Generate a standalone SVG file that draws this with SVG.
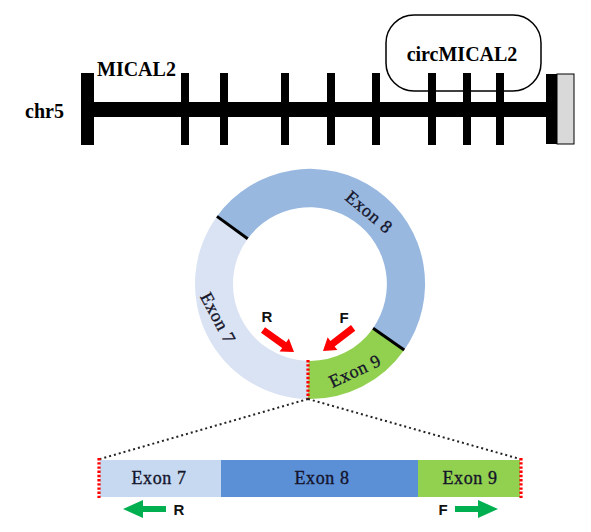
<svg xmlns="http://www.w3.org/2000/svg" xmlns:xlink="http://www.w3.org/1999/xlink" width="591" height="532" viewBox="0 0 591 532">
<style>
.lbl{font-family:"Liberation Serif","Times New Roman",serif;font-weight:bold;font-size:20px;fill:#000}
.ex{font-family:"Liberation Serif","Times New Roman",serif;font-size:18px;letter-spacing:0.6px;fill:#14142a;stroke:#14142a;stroke-width:0.35;text-anchor:middle}
.pr{font-family:"Liberation Sans",Arial,sans-serif;font-weight:bold;font-size:15px;fill:#111;text-anchor:middle}
.tick{fill:#000}
.bound{stroke:#000;stroke-width:3}
.reddot{stroke:#f00;stroke-width:3.2;stroke-dasharray:2.4 1.8;fill:none}
.blkdot{stroke:#222;stroke-width:2;stroke-dasharray:2 3;fill:none}
</style>
<defs>
<polygon id="redArrow" points="0,0 -12,-8 -12,-3.5 -38,-3.5 -38,3.5 -12,3.5 -12,8" fill="#f00"/>
<polygon id="greenArrow" points="0,0 -20,-9 -20,-3 -43,-3 -43,3 -20,3 -20,9" fill="#00b050"/>
</defs>
<rect width="591" height="532" fill="#fff"/>

<g id="circ-label">
<rect x="386" y="15" width="155" height="76" rx="28" ry="28" fill="#fff" stroke="#000" stroke-width="1.5"/>
<text class="lbl" x="462" y="61" text-anchor="middle">circMICAL2</text>
</g>

<g id="chromosome">
<rect x="81" y="102" width="476" height="15" class="tick"/>
<rect x="81" y="73" width="13" height="72" class="tick"/>
<rect x="546" y="74" width="11" height="70" class="tick"/>
<rect x="557" y="74" width="17" height="70" fill="#d9d9d9" stroke="#000" stroke-width="1"/>
<rect x="181" y="73" width="8" height="72" class="tick"/>
<rect x="220" y="73" width="8" height="72" class="tick"/>
<rect x="281" y="73" width="8" height="72" class="tick"/>
<rect x="327" y="73" width="8" height="72" class="tick"/>
<rect x="372" y="73" width="8" height="72" class="tick"/>
<rect x="428" y="73" width="8" height="72" class="tick"/>
<rect x="463" y="73" width="8" height="72" class="tick"/>
<rect x="496" y="73" width="8" height="72" class="tick"/>
<text class="lbl" x="97" y="76">MICAL2</text>
<text class="lbl" x="25" y="118">chr5</text>
</g>

<g id="circle">
<path d="M308.0 399.0 A115 115 0 0 1 216.96 216.40 L247.71 238.74 A77 77 0 0 0 308.66 360.99 Z" fill="#dae3f3"/>
<path d="M216.96 216.40 A115 115 0 0 1 404.20 349.96 L373.07 328.17 A77 77 0 0 0 247.71 238.74 Z" fill="#98b8e0"/>
<path d="M404.20 349.96 A115 115 0 0 1 308.0 399.0 L308.66 360.99 A77 77 0 0 0 373.07 328.17 Z" fill="#92d050"/>
<line class="bound" x1="216.96" y1="216.40" x2="247.71" y2="238.74"/>
<line class="bound" x1="404.20" y1="349.96" x2="373.07" y2="328.17"/>
<line class="reddot" x1="308" y1="360" x2="308" y2="399"/>
<text class="ex" transform="translate(369,212) rotate(40)" y="6">Exon 8</text>
<text class="ex" transform="translate(218,318) rotate(62)" y="6">Exon 7</text>
<text class="ex" transform="translate(355,371) rotate(-25)" y="6">Exon 9</text>
<use xlink:href="#redArrow" href="#redArrow" transform="translate(294,352) rotate(35.4)"/>
<use xlink:href="#redArrow" href="#redArrow" transform="translate(323,351) rotate(142.5)"/>
<text class="pr" x="267" y="322">R</text>
<text class="pr" x="344" y="323">F</text>
</g>

<g id="connectors">
<line class="blkdot" x1="308" y1="399" x2="100" y2="459"/>
<line class="blkdot" x1="308" y1="399" x2="520" y2="459"/>
</g>

<g id="linear">
<rect x="100" y="460" width="121" height="37" fill="#c6d9f1"/>
<rect x="221" y="460" width="197" height="37" fill="#5b8fd6"/>
<rect x="418" y="460" width="102" height="37" fill="#92d050"/>
<line class="reddot" x1="99" y1="458" x2="99" y2="498"/>
<line class="reddot" x1="521" y1="458" x2="521" y2="498"/>
<text class="ex" x="159" y="484">Exon 7</text>
<text class="ex" x="322" y="484">Exon 8</text>
<text class="ex" x="470" y="484">Exon 9</text>
<use xlink:href="#greenArrow" href="#greenArrow" transform="translate(123,509) rotate(180)"/>
<use xlink:href="#greenArrow" href="#greenArrow" transform="translate(498,509)"/>
<text class="pr" x="179" y="515">R</text>
<text class="pr" x="443" y="515">F</text>
</g>
</svg>
